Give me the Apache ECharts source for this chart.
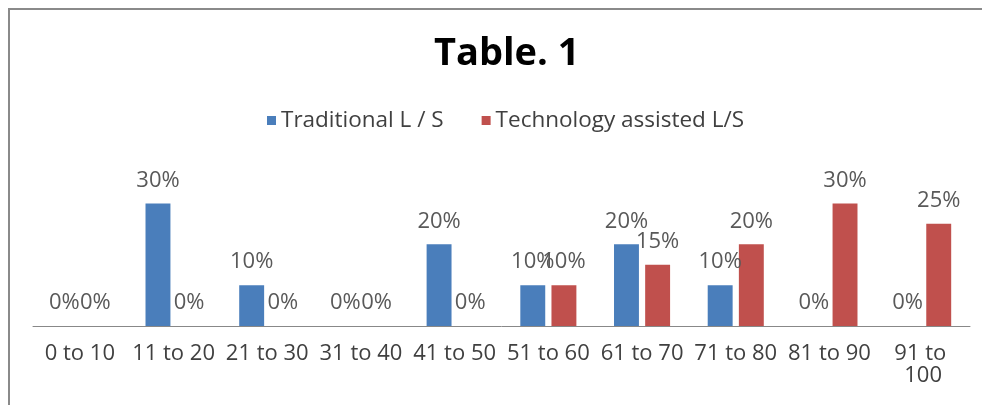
<!DOCTYPE html>
<html>
<head>
<meta charset="utf-8">
<script src="https://cdn.jsdelivr.net/npm/echarts@6/dist/echarts.min.js"></script>
<style>
  html, body { margin: 0; padding: 0; background: #ffffff; overflow: hidden; }
  #chart { width: 982px; height: 405px; }
</style>
</head>
<body>
<div id="chart"></div>
<script>
const categories = ["0 to 10", "11 to 20", "21 to 30", "31 to 40", "41 to 50", "51 to 60", "61 to 70", "71 to 80", "81 to 90", "91 to 100"];
const traditional = [0, 30, 10, 0, 20, 10, 20, 10, 0, 0];
const technology = [0, 0, 0, 0, 0, 10, 15, 20, 30, 25];
const seriesNames = ["Traditional L / S", "Technology assisted L/S"];
const titleText = "Table. 1";

const FONT = "'Open Sans', 'Liberation Sans', sans-serif";
const chart = echarts.init(document.getElementById('chart'), null, { renderer: 'canvas' });

const labelStyle = {
  show: true,
  position: 'top',
  distance: 12,
  formatter: p => p.value + '%',
  color: '#595959',
  fontFamily: FONT,
  fontSize: 22
};

chart.setOption({
  backgroundColor: '#ffffff',
  animation: false,
  graphic: [
    {
      type: 'line',
      shape: { x1: 8, y1: 9, x2: 982, y2: 9 },
      style: { stroke: '#8a8a8a', lineWidth: 2 },
      silent: true
    },
    {
      type: 'line',
      shape: { x1: 9, y1: 8, x2: 9, y2: 405 },
      style: { stroke: '#8a8a8a', lineWidth: 2 },
      silent: true
    }
  ],
  title: {
    text: titleText,
    left: 429,
    top: 30,
    textStyle: { fontFamily: FONT, fontWeight: 'bold', fontSize: 38, color: '#000000' }
  },
  legend: {
    data: seriesNames,
    top: 104,
    left: 262,
    itemWidth: 9,
    itemHeight: 9,
    itemGap: 38,
    icon: 'rect',
    textStyle: { fontFamily: FONT, fontSize: 22.5, color: '#404040' }
  },
  grid: { left: 33, right: 12, top: 183, bottom: 79, containLabel: false },
  xAxis: {
    type: 'category',
    data: categories,
    axisLine: { lineStyle: { color: '#888888', width: 1 } },
    axisTick: { show: false },
    axisLabel: {
      interval: 0,
      margin: 17,
      color: '#404040',
      fontFamily: FONT,
      fontSize: 22,
      lineHeight: 22,
      width: 88,
      overflow: 'break'
    }
  },
  yAxis: {
    type: 'value',
    min: 0,
    max: 35,
    show: false,
    splitLine: { show: false }
  },
  series: [
    {
      name: seriesNames[0],
      type: 'bar',
      data: traditional,
      barWidth: '26.6%',
      barGap: '25%',
      itemStyle: { color: '#4a7ebb' },
      label: labelStyle
    },
    {
      name: seriesNames[1],
      type: 'bar',
      data: technology,
      barWidth: '26.6%',
      barGap: '25%',
      itemStyle: { color: '#c0504d' },
      label: labelStyle
    }
  ]
});
</script>
</body>
</html>
